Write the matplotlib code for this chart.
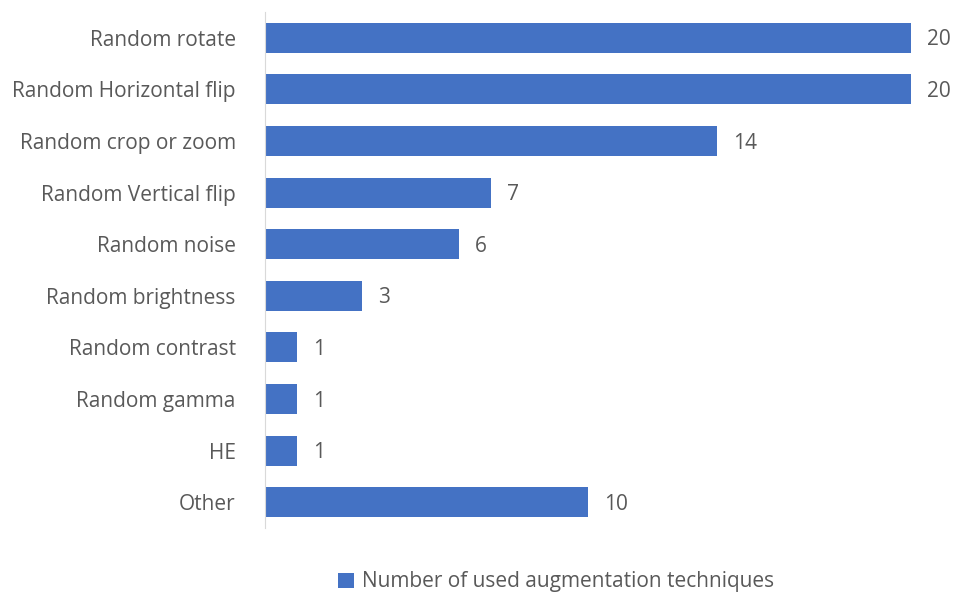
import matplotlib.pyplot as plt

# augmentation techniques and how often each was used
techniques = ["Random rotate", "Random Horizontal flip", "Random crop or zoom",
              "Random Vertical flip", "Random noise", "Random brightness",
              "Random contrast", "Random gamma", "HE", "Other"]
counts = [20, 20, 14, 7, 6, 3, 1, 1, 1, 10]

bar_color = "#4472C4"
text_color = "#595959"
font = {"family": "Open Sans", "size": 15}

fig = plt.figure(figsize=(9.54, 5.95), dpi=100)
ax = fig.add_axes([265 / 954, 1 - 528 / 595, (911 - 265) / 954, 516 / 595])

pos = list(range(len(techniques)))
bars = ax.barh(pos, counts, height=0.58, color=bar_color)
ax.set_ylim(len(techniques) - 0.5, -0.5)
ax.set_xlim(0, 20)

ax.set_yticks(pos)
ax.set_yticklabels(techniques, color=text_color, **font)
ax.tick_params(axis="y", length=0, pad=21)
ax.set_xticks([])

for s in ["top", "right", "bottom"]:
    ax.spines[s].set_visible(False)
ax.spines["left"].set_color("#D9D9D9")

for b, v in zip(bars, counts):
    ax.text(b.get_width() + 0.5, b.get_y() + b.get_height() / 2 + 0.04, str(v),
            va="center", ha="left", color=text_color, **font)

fig.legend(handles=[bars], labels=["Number of used augmentation techniques"],
           loc="center", bbox_to_anchor=(0.583, 1 - 582 / 595), frameon=False,
           labelcolor=text_color, prop=font,
           handlelength=0.75, handleheight=0.75, handletextpad=0.4)

fig.savefig("out.png", dpi=100)
